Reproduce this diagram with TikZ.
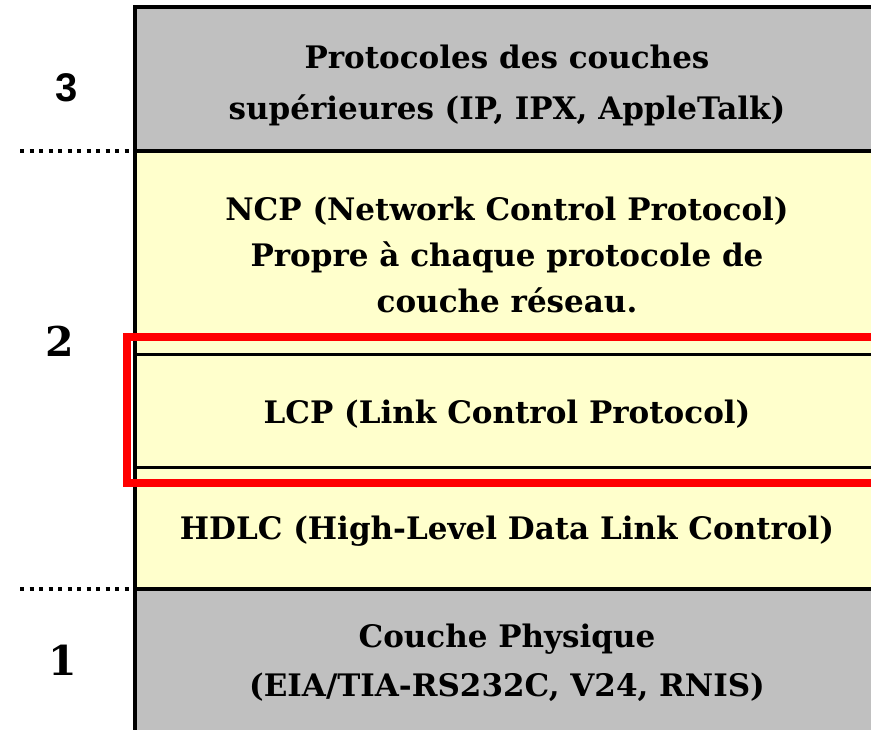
\documentclass[tikz,border=0pt]{standalone}
\usepackage{fontspec}
\setmainfont{DejaVu Serif}
\newfontfamily\numsans{Liberation Sans}
\definecolor{layergray}{HTML}{C0C0C0}
\definecolor{layeryellow}{HTML}{FFFFCC}
\definecolor{hired}{HTML}{FF0000}
\begin{document}
\begin{tikzpicture}[x=1pt,y=-1pt,
  layer/.style={draw=none, anchor=north west, inner sep=0pt, outer sep=0pt,
    minimum width=744pt},
  layertext/.style={inner sep=0pt, align=center,
    font=\bfseries\fontsize{31}{#1}\selectfont},
  layertext/.default=48,
  frame/.style={line width=4pt},
  thin frame/.style={line width=3pt},
  dotline/.style={line width=4pt, dash pattern=on 4pt off 5.5pt},
  levelnum/.style={font=\bfseries\fontsize{41}{44}\selectfont, inner sep=0pt},
]
\useasboundingbox (0,0) rectangle (871,730);
\begin{scope}
\clip (0,0) rectangle (871,730);
% protocol stack
\node[layer, fill=layergray, minimum height=144pt] (up) at (135,7) {};
\node[layer, fill=layeryellow, minimum height=204pt] (ncp) at (135,151) {};
\node[layer, fill=layeryellow, minimum height=112pt] (lcp) at (135,355) {};
\node[layer, fill=layeryellow, minimum height=122pt] (hdlc) at (135,467) {};
\node[layer, fill=layergray, minimum height=144pt] (phy) at (135,589) {};
% layer captions
\node[layertext=51, yshift=-6pt] (upt) at (up.center)
  {Protocoles des couches\\supérieures (IP, IPX, AppleTalk)};
\node[layertext=46, yshift=-2pt] (ncpt) at (ncp.center)
  {NCP (Network Control Protocol)\\Propre à chaque protocole de\\couche réseau.};
\node[layertext, yshift=-3pt] (lcpt) at (lcp.center)
  {LCP (Link Control Protocol)};
\node[layertext, yshift=-3pt] (hdlct) at (hdlc.center)
  {HDLC (High-Level Data Link Control)};
\node[layertext=49, yshift=-2pt] (phyt) at (phy.center)
  {Couche Physique\\(EIA/TIA-RS232C, V24, RNIS)};
% borders
\draw[frame] (up.north east) -- (up.north west) -- (phy.south west);
\draw[frame] (up.south west) -- (up.south east);
\draw[frame] (phy.north west) -- (phy.north east);
\draw[frame] (up.north east) -- (phy.south east);
\draw[thin frame] (lcp.north west) -- (lcp.north east);
\draw[thin frame] (lcp.south west) -- (lcp.south east);
% highlight around LCP
\coordinate (hl1) at (127,337);
\coordinate (hl2) at (895,483);
\draw[hired, line width=8pt] (hl1) rectangle (hl2);
% level separators
\coordinate (s32) at (20,151);
\coordinate (s21) at (20,589);
\draw[dotline] (s32) -- (up.south west);
\draw[dotline] (s21) -- (phy.north west);
% level numbers
\node[levelnum, font=\numsans\bfseries\fontsize{40}{44}\selectfont] (l3) at (67,88) {3};
\node[levelnum] (l2) at (60,341) {2};
\node[levelnum] (l1) at (63,660) {1};
\end{scope}
\end{tikzpicture}
\end{document}
